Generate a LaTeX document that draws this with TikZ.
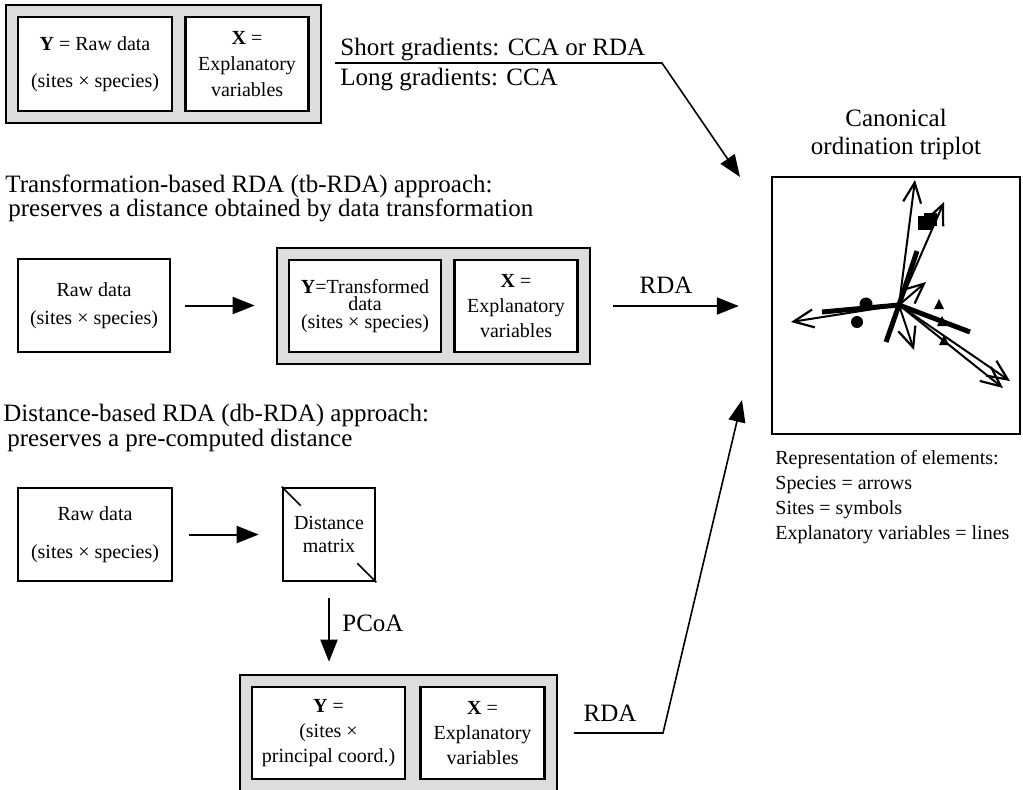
\documentclass[tikz,border=0pt]{standalone}
\usepackage{fontspec}
\setmainfont{Liberation Serif}
\usetikzlibrary{arrows.meta,positioning,fit,backgrounds}
\definecolor{boxgray}{HTML}{DDDDDD}

\begin{document}
\begin{tikzpicture}[x=0.5pt,y=-0.5pt,font=\fontsize{10}{12}\selectfont]
    \tikzstyle{wbox}=[draw,line width=1.3pt,fill=white,align=center,inner sep=0pt]
    \tikzstyle{gbox}=[draw,line width=1pt,fill=boxgray,inner sep=5.5pt]
    \tikzstyle{flow}=[line width=1pt,-{Triangle[length=11pt,width=8.5pt]}]
    \tikzstyle{big}=[font=\fontsize{12.5}{11}\selectfont,inner sep=0pt]
    \tikzstyle{spec}=[line width=1pt,-{Straight Barb[length=10pt,width=9pt,line width=1.1pt]}]
    \tikzstyle{expl}=[line width=2.5pt]
    \useasboundingbox (0,0) rectangle (1023,789);

    % direct approach
    \node[wbox,minimum width=77pt,minimum height=47pt] (ya) at (95,64) {\textbf{Y} = Raw data\\[6.5pt](sites × species)};
    \node[wbox,minimum width=61.5pt,minimum height=47pt,right=5.5pt of ya] (xa) {\textbf{X} =\\[1.2pt]Explanatory\\[1.2pt]variables};
    \begin{scope}[on background layer]
      \node[gbox,fit=(ya)(xa)] (ga) {};
    \end{scope}
    \node[big,anchor=base west] (sg) at (340,55) {Short gradients: CCA or RDA};
    \node[big,anchor=base west] (lg) at (340,85) {Long gradients: CCA};
    \coordinate (k0) at (335,63);
    \coordinate (k1) at (662,63);
    \coordinate (t1) at (740,177);
    \draw[line width=0.8pt,-{Triangle[length=11pt,width=8.5pt]}] (k0) -- (k1) -- (t1);

    % tb-RDA
    \node[big,anchor=north west,align=left] (htb) at (5,174) {Transformation-based RDA (tb-RDA) approach:\\\hspace*{1.5pt}preserves a distance obtained by data transformation};
    \node[wbox,minimum width=76pt,minimum height=46.5pt] (raw2) at (94,305.5) {Raw data\\[2pt](sites × species)};
    \node[wbox,minimum width=76pt,minimum height=46pt] (yb) at (365,306) {\textbf{Y}=Transformed\\[-3.2pt]data\\[-3.2pt](sites × species)};
    \node[wbox,minimum width=61.5pt,minimum height=46pt,right=5.5pt of yb] (xb) {\textbf{X} =\\[0.5pt]Explanatory\\[0.5pt]variables};
    \begin{scope}[on background layer]
      \node[gbox,fit=(yb)(xb)] (gb) {};
    \end{scope}

    % triplot
    \node[draw,line width=1.2pt,minimum width=124pt,minimum height=128.5pt] (tp) at (896,305.5) {};
    \node[big,align=center,font=\fontsize{12.5}{14}\selectfont] (tt) at (896,134) {Canonical\\ordination triplot};
    \node[anchor=north west,align=left,inner sep=0pt,font=\fontsize{10}{12.5}\selectfont] (rep) at (775,450) {Representation of elements:\\Species = arrows\\Sites = symbols\\Explanatory variables = lines};
    \coordinate (o) at (899,305);
    \foreach \tx/\ty in {822/312,970/332,886/342,917/251} \draw[expl] (o) -- (\tx,\ty);
    \foreach \tx/\ty in {915/180,944/202,926/282,791/322,914/350,1010/381,1003/388} \draw[spec] (o) -- (\tx,\ty);
    \fill (866,304) circle (6.5);
    \fill (857,322) circle (6);
    \fill (918,216) rectangle (933,230);
    \fill (924,213) rectangle (937,226);
    \foreach \sx/\sy in {939/305,942/322,944/341} \fill (\sx-5,\sy+4) -- (\sx+5,\sy+4) -- (\sx,\sy-6) -- cycle;

    \draw[flow,shorten <=7pt,shorten >=10.5pt] (raw2.east) -- (raw2.east -| gb.west);
    \draw[flow,shorten <=11pt,shorten >=16pt] (gb.east) -- (gb.east -| tp.west);
    \node (rda2) at (666,285) {\fontsize{12.5}{14}\selectfont RDA};

    % db-RDA
    \node[big,anchor=north west,align=left] (hdb) at (3,404) {Distance-based RDA (db-RDA) approach:\\\hspace*{2pt}preserves a pre-computed distance};
    \node[wbox,minimum width=77pt,minimum height=46.5pt] (raw3) at (95,534.5) {Raw data\\[7pt](sites × species)};
    \node[wbox,minimum width=46pt,minimum height=46.5pt] (dm) at (329,534.5) {Distance\\[-0.5pt]matrix};
    \draw[line width=0.8pt] (dm.north west) -- ++(19,19);
    \draw[line width=0.8pt] (dm.south east) -- ++(-19,-19);
    \node[wbox,minimum width=76.5pt,minimum height=46pt] (yc) at (328.5,733) {\textbf{Y} =\\[0.5pt](sites ×\\[0.5pt]principal coord.)};
    \node[wbox,minimum width=62pt,minimum height=46pt,right=6.5pt of yc] (xc) {\textbf{X} =\\[0.5pt]Explanatory\\[0.5pt]variables};
    \begin{scope}[on background layer]
      \node[gbox,fit=(yc)(xc)] (gc) {};
    \end{scope}
    \draw[flow,shorten <=8pt,shorten >=11.5pt] (raw3.east) -- (raw3.east -| dm.west);
    \draw[flow,shorten <=8pt,shorten >=6pt] (dm.south) -- (dm.south |- gc.north);
    \node[big,anchor=west] (pcoa) at (342,623) {PCoA};
    \coordinate (k2) at (663,733);
    \coordinate (t3) at (742,400);
    \draw[line width=0.8pt,-{Triangle[length=11pt,width=8.5pt]}] ([xshift=8pt]gc.east) -- (k2) -- (t3);
    \node (rda3) at (610,713) {\fontsize{12.5}{14}\selectfont RDA};
\end{tikzpicture}
\end{document}
